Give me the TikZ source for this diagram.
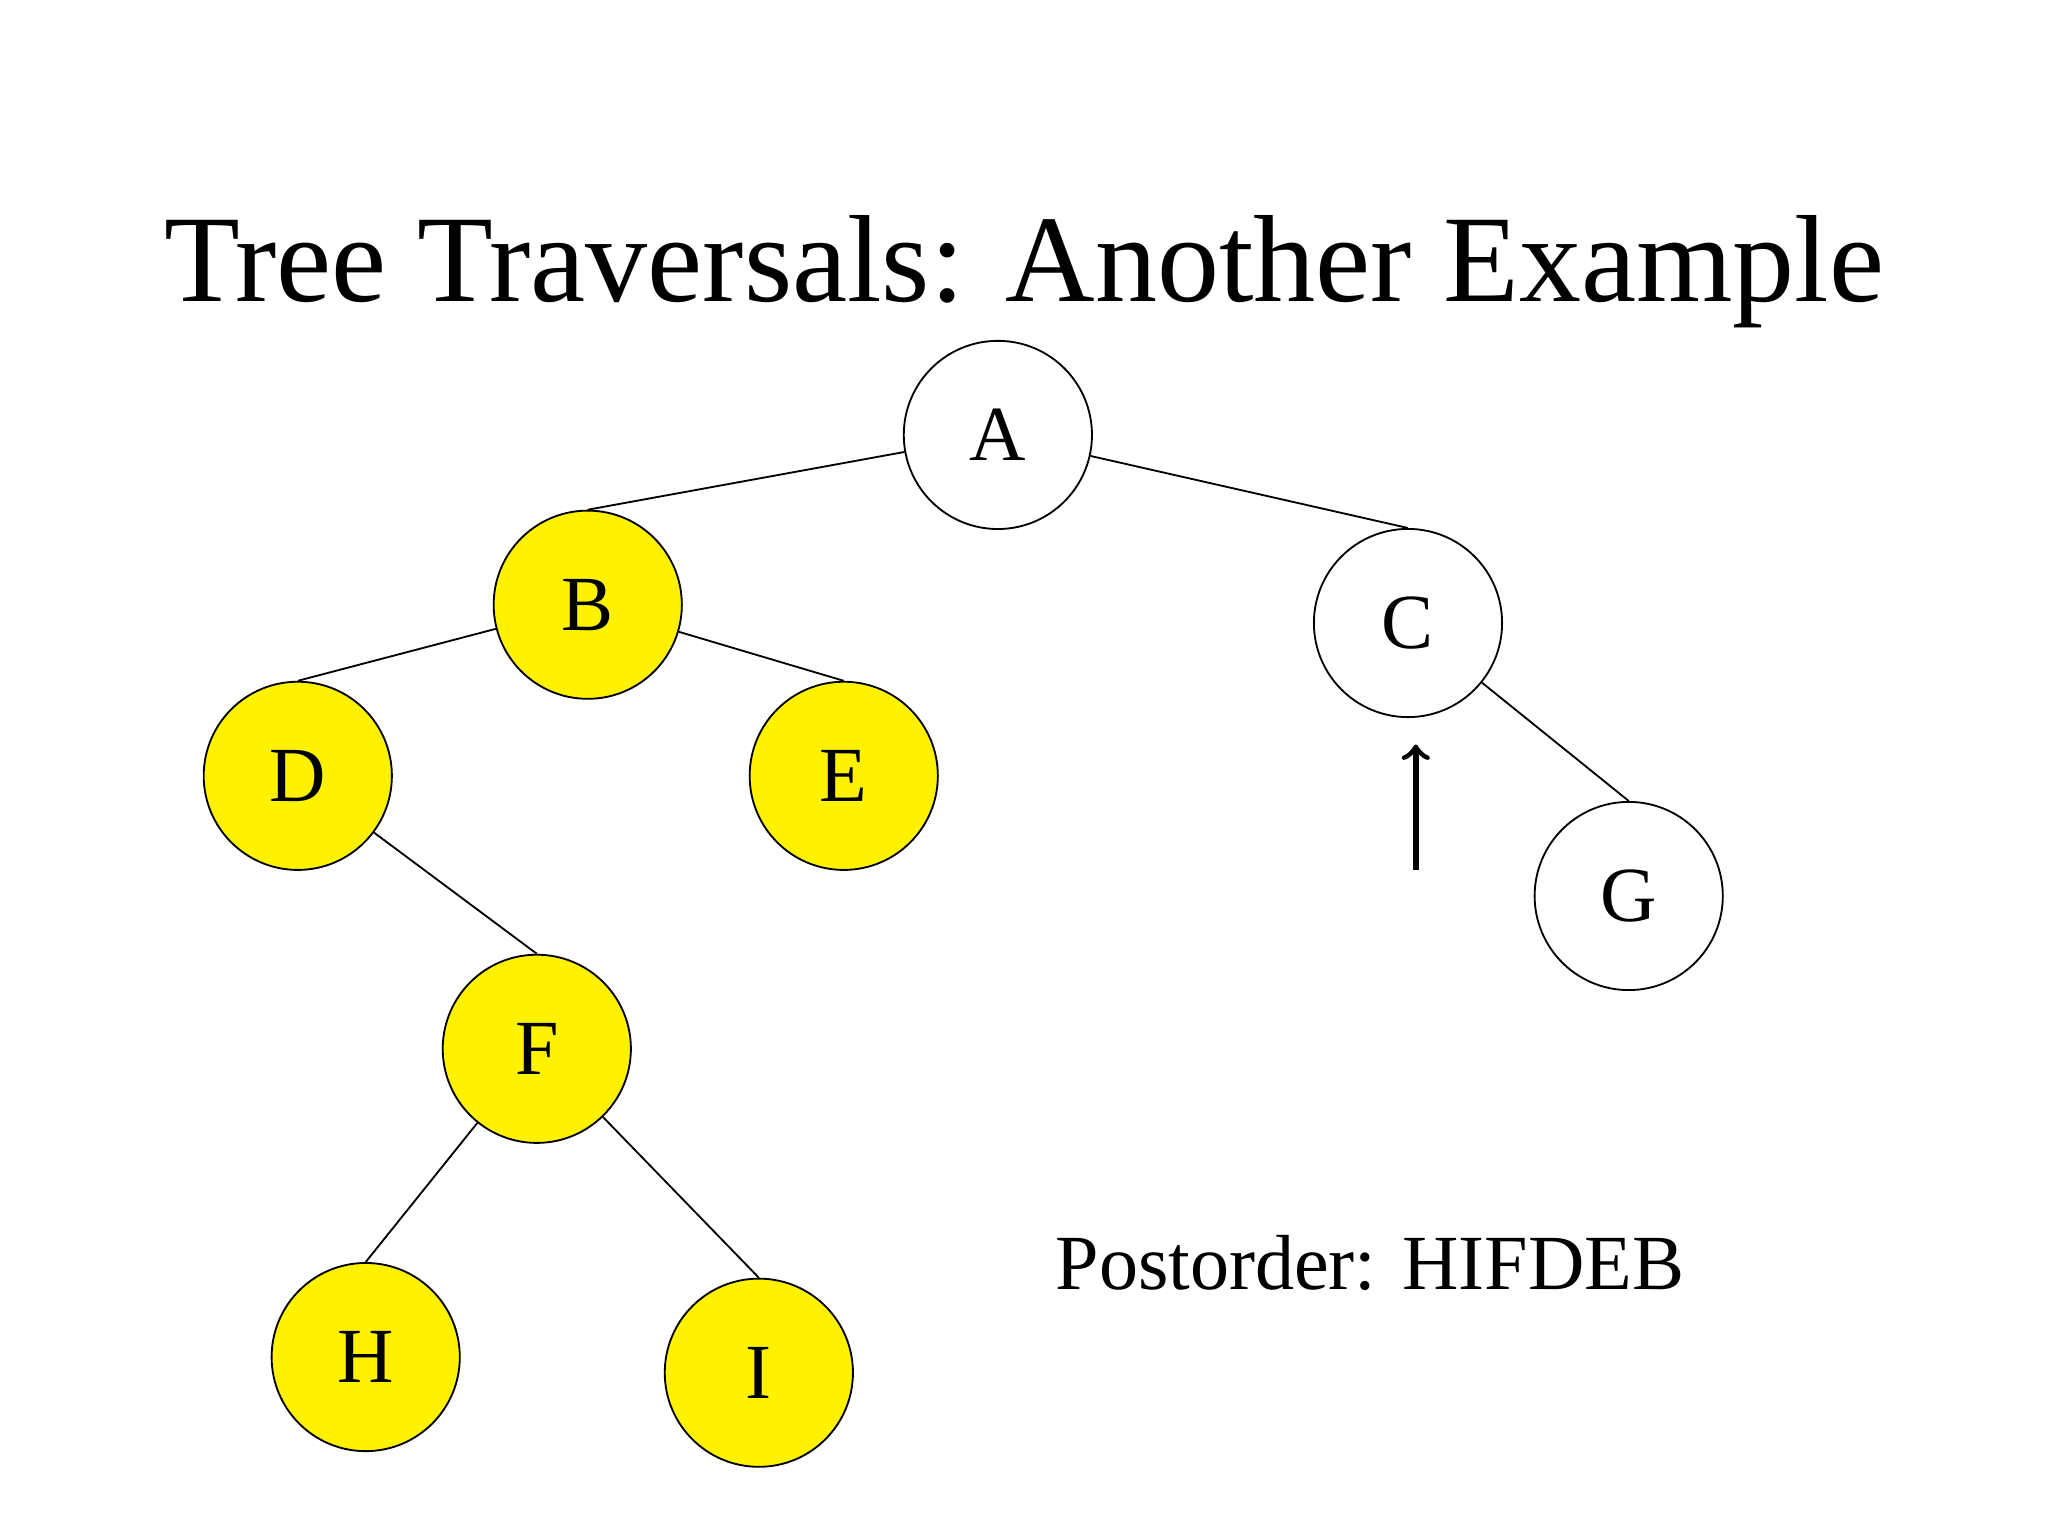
\documentclass[tikz,border=0pt]{standalone}
\usepackage{fontspec}
\setmainfont{Liberation Serif}
\begin{document}
\begin{tikzpicture}[x=0.01cm,y=-0.01cm,
    visitado/.style={circle, draw, fill=yellow, minimum size=1.44cm, inner sep=0pt, font=\fontsize{17}{17}\selectfont},
    pendiente/.style={circle, draw, fill=white, minimum size=1.44cm, inner sep=0pt, font=\fontsize{17}{17}\selectfont}]
  \useasboundingbox (0,0) rectangle (1568,1176);
  \node (titulo) at (784,208) {\fontsize{27}{27}\selectfont Tree Traversals: Another Example};
  % nodos
  \node[pendiente] (A) at (764,333) {A};
  \node[visitado] (B) at (450,463) {B};
  \node[pendiente] (C) at (1078,477) {C};
  \node[visitado] (D) at (228,594) {D};
  \node[visitado] (E) at (646,594) {E};
  \node[visitado] (F) at (411,803) {F};
  \node[pendiente] (G) at (1247,686) {G};
  \node[visitado] (H) at (280,1039) {H};
  \node[visitado] (I) at (581,1051) {I};
  % aristas
  \draw (A) -- (B.north);
  \draw (A) -- (C.north);
  \draw (B) -- (D.north);
  \draw (B) -- (E.north);
  \draw (C) -- (G.north);
  \draw (D) -- (F.north);
  \draw (F) -- (H.north);
  \draw (F) -- (I.north);
  \coordinate (base) at (1084,666);
  \coordinate (punta) at (1084,570);
  \draw[->, line width=1.2pt] (base) -- (punta);
  \node (orden) at (1049,967) {\fontsize{17}{17}\selectfont Postorder: HIFDEB};
\end{tikzpicture}
\end{document}
